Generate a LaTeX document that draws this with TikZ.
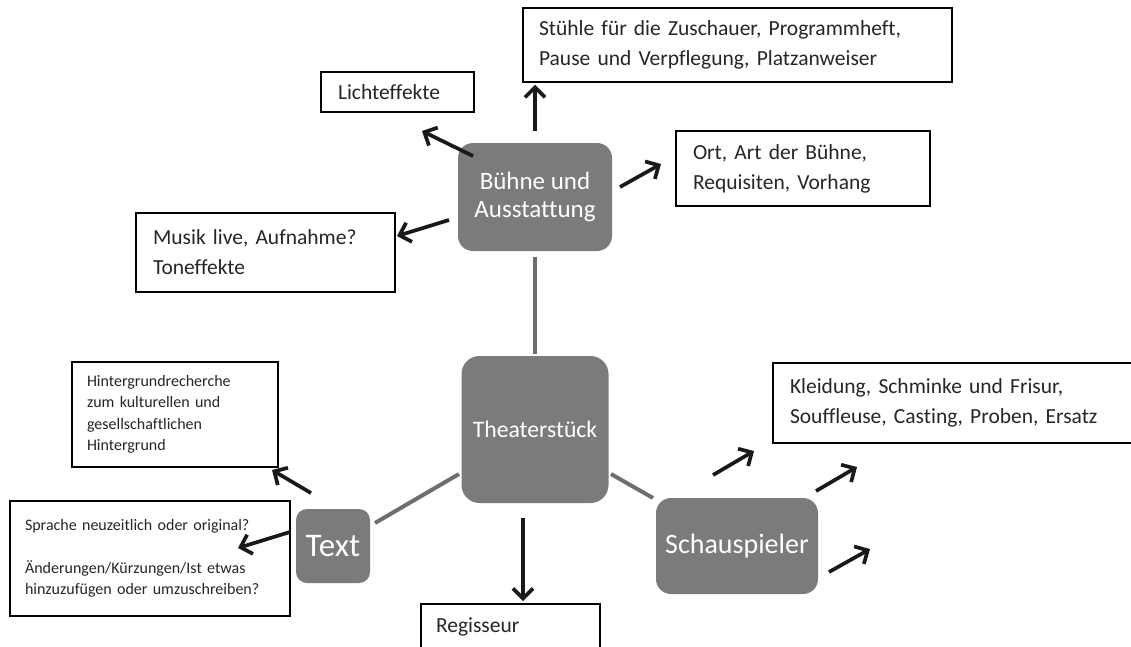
\documentclass[tikz,border=0pt]{standalone}
\usepackage{fontspec}
\setmainfont{Carlito}[Ligatures=NoCommon]
\usetikzlibrary{arrows.meta}
\definecolor{gfill}{RGB}{123,123,123}
\definecolor{glink}{RGB}{110,110,110}
\newcommand{\myboxfont}{\fontsize{21.5}{30}\selectfont}
\newcommand{\mysmallfont}{\fontsize{16}{21.5}\selectfont}
\tikzset{
  infobox/.style={draw=black, line width=1.5pt, fill=white, align=left,
    inner ysep=0pt, font=\myboxfont, text=black!85},
  smallbox/.style={infobox, font=\mysmallfont},
  graybox/.style={fill=gfill, draw=none, text=white, align=center, inner sep=0pt},
  arr/.style={line width=3.7pt, black!90, -{Straight Barb[length=10pt,width=20pt]}},
  link/.style={draw=glink, line width=4pt}
}
\begin{document}
\begin{tikzpicture}[x=1pt,y=-1pt]
\clip (0,0) rectangle (1131,646);
\fill[white] (0,0) rectangle (1131,646);

% information boxes
\node[infobox, minimum width=429pt, minimum height=74pt, text width=397pt, inner xsep=16pt]
  (stuehle) at (737.5,45) {Stühle für die Zuschauer, Programmheft,\\Pause und Verpflegung, Platzanweiser};
\node[infobox, minimum width=153pt, minimum height=40pt, text width=119pt, inner xsep=17pt]
  (licht) at (397.5,92) {Lichteffekte};
\node[infobox, minimum width=254pt, minimum height=75pt, text width=220pt, inner xsep=17pt]
  (ort) at (803,168.5) {Ort, Art der Bühne,\\Requisiten, Vorhang};
\node[infobox, minimum width=259pt, minimum height=79pt, text width=225pt, inner xsep=17pt]
  (musik) at (265.5,252.5) {Musik live, Aufnahme?\\Toneffekte};
\node[smallbox, minimum width=206pt, minimum height=105pt, text width=176pt, inner xsep=15pt]
  (hinter) at (175,414.5) {Hintergrundrecherche\\zum kulturellen und\\gesellschaftlichen\\Hintergrund};
\node[smallbox, minimum width=280pt, minimum height=115pt, text width=250pt, inner xsep=15pt]
  (sprache) at (150,558.5) {Sprache neuzeitlich oder original?\\[21.5pt]Änderungen/Kürzungen/Ist etwas\\hinzuzufügen oder umzuschreiben?};
\node[infobox, minimum width=377pt, minimum height=80pt, text width=343pt, inner xsep=17pt]
  (kleid) at (961.5,403) {Kleidung, Schminke und Frisur,\\Souffleuse, Casting, Proben, Ersatz};
\node[infobox, minimum width=179pt, minimum height=46pt, text width=149pt, inner xsep=15pt, anchor=north]
  (regis) at (510.5,603) {Regisseur};

% gray topic boxes
\node[graybox, minimum width=154pt, minimum height=108pt, rounded corners=15pt,
  font=\fontsize{25}{28}\selectfont] (buehne) at (535,197) {Bühne und\\Ausstattung};
\node[graybox, minimum width=147pt, minimum height=147pt, rounded corners=18pt,
  font=\fontsize{23.7}{28}\selectfont] (theater) at (535,429.5) {Theaterstück};
\node[graybox, minimum width=74pt, minimum height=74pt, rounded corners=11pt,
  font=\fontsize{33}{36}\selectfont] (textb) at (333,546) {Text};
\node[graybox, minimum width=162pt, minimum height=96pt, rounded corners=15pt,
  font=\fontsize{28}{32}\selectfont] (schau) at (737,546) {Schauspieler};

% gray links
\draw[link, shorten <=6pt, shorten >=2pt] (buehne.south) -- (theater.north);
\coordinate (th-w) at (459,474);
\coordinate (tx-e) at (375,523);
\coordinate (th-e) at (611,474);
\coordinate (sc-w) at (653,498);
\draw[link] (th-w) -- (tx-e);
\draw[link] (th-e) -- (sc-w);

% arrows
\draw[arr, shorten <=12pt, shorten >=2pt] (buehne.north) -- (stuehle.south -| buehne.north);
\coordinate (b-l) at (473,156);  \coordinate (l-in) at (422,131);
\coordinate (b-o) at (620,187);  \coordinate (o-in) at (661,164);
\coordinate (b-m) at (449,220);  \coordinate (m-in) at (397,236);
\draw[arr] (b-l) -- (l-in);
\draw[arr] (b-o) -- (o-in);
\draw[arr] (b-m) -- (m-in);

\coordinate (t-r) at (523,518);  \coordinate (r-in) at (523,601);
\draw[arr] (t-r) -- (r-in);

\coordinate (x-h) at (311,493);  \coordinate (h-in) at (272,470);
\coordinate (x-s) at (290,532);  \coordinate (s-in) at (238,548);
\draw[arr] (x-h) -- (h-in);
\draw[arr] (x-s) -- (s-in);

\coordinate (s-a1) at (713,475); \coordinate (s-a1e) at (754,451);
\coordinate (s-a2) at (816,491); \coordinate (s-a2e) at (857,467);
\coordinate (s-a3) at (829,572); \coordinate (s-a3e) at (870,549);
\draw[arr] (s-a1) -- (s-a1e);
\draw[arr] (s-a2) -- (s-a2e);
\draw[arr] (s-a3) -- (s-a3e);
\end{tikzpicture}
\end{document}
